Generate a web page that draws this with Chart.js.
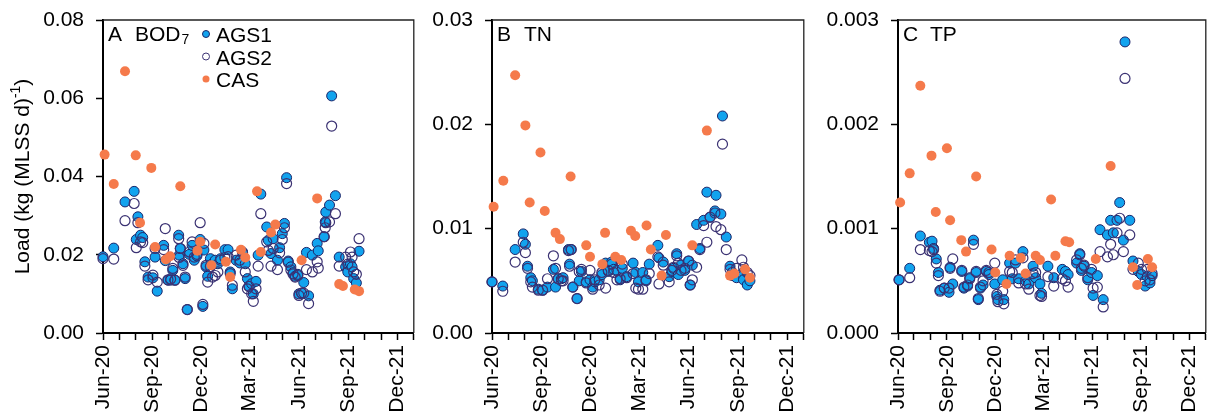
<!DOCTYPE html>
<html>
<head>
<meta charset="utf-8">
<title>Load per MLSS</title>
<script src="https://cdn.jsdelivr.net/npm/chart.js@4.4.1/dist/chart.umd.min.js"></script>
<style>
  html, body { margin: 0; padding: 0; background: #fff; }
  #wrap { position: relative; width: 1212px; height: 419px; overflow: hidden; }
  canvas { position: absolute; top: 0; }
</style>
</head>
<body>
<div id="wrap">
  <canvas id="chartA" width="420" height="419" style="left:0"></canvas>
  <canvas id="chartB" width="390" height="419" style="left:420px"></canvas>
  <canvas id="chartC" width="402" height="419" style="left:810px"></canvas>
</div>
<script>
// sample days are counted from 1 Jun 2020
const quarterLabels = ['Jun-20', 'Sep-20', 'Dec-20', 'Mar-21', 'Jun-21', 'Sep-21', 'Dec-21'];
const seriesNames = ['AGS1', 'AGS2', 'CAS'];

// A - BOD7
const bodTicks = [0, 0.02, 0.04, 0.06, 0.08];
const bodDays = [0,20,41,58,62,65,70,74,78,84,93,97,101,113,116,121,126,130,134,141,142,144,149,153,157,161,166,170,175,181,186,188,192,195,200,204,209,214,219,227,233,237,241,248,255,260,265,269,272,277,280,285,289,294,305,308,313,317,325,329,334,338,342,345,350,354,358,363,365,370,374,379,383,390,399,401,412,414,415,422,426,433,440,452,456,461,464,467,472,477];
const bodAgs1 = [0.0195,0.0217,0.0335,0.0362,0.0239,0.0297,0.025,0.0244,0.0182,0.0143,0.0141,0.0194,0.0107,0.0224,0.0185,0.0135,0.0135,0.016,0.0135,0.025,0.0199,0.0216,0.0177,0.0139,0.006,0.0201,0.0224,0.0186,0.0197,0.0239,0.0068,0.0212,0.0169,0.0145,0.019,0.0177,0.0186,0.0177,0.019,0.0213,0.0213,0.0156,0.0113,0.0186,0.0179,0.0207,0.0177,0.0139,0.0119,0.0126,0.01,0.0132,0.0199,0.0355,0.0271,0.0237,0.0203,0.0241,0.0186,0.0218,0.0254,0.028,0.0397,0.0184,0.0169,0.0154,0.0145,0.015,0.01,0.0102,0.0129,0.0206,0.0095,0.0199,0.0229,0.021,0.0246,0.0284,0.0309,0.0327,0.0606,0.0351,0.0194,0.0169,0.0156,0.0177,0.0169,0.0139,0.0128,0.0209];
const bodAgs2 = [0.019,0.0189,0.0287,0.0331,0.0218,0.0282,0.0233,0.0231,0.0171,0.0136,0.0148,0.0216,0.013,0.0213,0.0267,0.0136,0.0138,0.0165,0.0135,0.0241,0.0193,0.0216,0.0173,0.0143,0.006,0.0207,0.0233,0.0194,0.0201,0.0282,0.0073,0.0229,0.0173,0.013,0.017,0.0143,0.0147,0.0156,0.0186,0.0193,0.0195,0.0152,0.0122,0.0199,0.0186,0.0205,0.0156,0.0113,0.0119,0.01,0.0081,0.0113,0.0171,0.0305,0.0233,0.0211,0.0171,0.0216,0.0162,0.0205,0.0239,0.0269,0.0382,0.0181,0.0161,0.0151,0.0143,0.0147,0.0096,0.0102,0.0102,0.0162,0.0075,0.0156,0.0182,0.0166,0.0246,0.0269,0.0282,0.0284,0.0529,0.0305,0.0171,0.0194,0.0176,0.0207,0.0194,0.0156,0.015,0.0241];
const bodCasDays = [3,20,41,61,69,90,97,117,125,144,176,181,202,209,229,237,257,265,287,294,313,321,370,399,440,447,469,477];
const bodCas = [0.0456,0.0381,0.0669,0.0454,0.0282,0.0422,0.022,0.0188,0.0196,0.0375,0.021,0.0233,0.0173,0.0226,0.0182,0.0143,0.0213,0.0193,0.0362,0.0207,0.0257,0.0277,0.0186,0.0344,0.0125,0.012,0.0111,0.0107];

// B - TN
const tnTicks = [0, 0.01, 0.02, 0.03];
const tnDays = [0,20,43,58,62,66,72,75,86,94,103,114,118,123,129,132,142,144,147,150,158,162,166,175,182,187,191,199,204,211,216,222,226,232,238,242,250,262,267,272,280,286,292,308,310,318,329,334,337,343,346,351,358,365,368,372,380,386,393,399,405,414,416,425,428,435,442,446,454,464,467,474,479];
const tnAgs1 = [0.0049,0.0045,0.008,0.0095,0.0085,0.0064,0.0053,0.005,0.0042,0.0041,0.0044,0.0061,0.0044,0.0052,0.0052,0.0053,0.008,0.0066,0.008,0.0044,0.0033,0.005,0.0059,0.0049,0.0051,0.0044,0.0049,0.0051,0.0056,0.0067,0.0059,0.0068,0.0061,0.006,0.0051,0.0062,0.0054,0.0067,0.0058,0.0049,0.0058,0.005,0.0066,0.0084,0.0072,0.0068,0.0054,0.0059,0.0062,0.0076,0.0056,0.0065,0.006,0.0069,0.0046,0.0065,0.0104,0.0081,0.0108,0.0135,0.0111,0.0117,0.0132,0.0114,0.0208,0.0092,0.0064,0.0055,0.0053,0.0057,0.0051,0.0046,0.005];
const tnAgs2 = [0.0049,0.004,0.0068,0.0087,0.0077,0.0062,0.0049,0.0044,0.0041,0.0041,0.0052,0.0074,0.0062,0.0052,0.005,0.005,0.0079,0.0064,0.008,0.0044,0.0033,0.0059,0.0061,0.0048,0.006,0.0042,0.0051,0.0046,0.0058,0.0043,0.006,0.0066,0.0058,0.0051,0.0052,0.0066,0.0053,0.0057,0.0043,0.0042,0.0042,0.0051,0.0057,0.0073,0.0047,0.0065,0.0049,0.006,0.0063,0.0074,0.0067,0.006,0.0062,0.0069,0.0046,0.0051,0.0063,0.008,0.0103,0.0087,0.0111,0.0115,0.0102,0.0099,0.0181,0.008,0.0061,0.0058,0.0062,0.007,0.0063,0.0058,0.0055];
const tnCasDays = [3,21,43,62,70,90,98,118,126,146,175,182,205,210,229,240,258,266,287,295,315,323,372,399,442,450,470,479];
const tnCas = [0.0121,0.0146,0.0247,0.0199,0.0125,0.0173,0.0117,0.0096,0.009,0.015,0.0084,0.0073,0.0066,0.0096,0.0073,0.007,0.0098,0.0093,0.0103,0.008,0.0055,0.0094,0.0084,0.0194,0.0055,0.0057,0.0061,0.0053];

// C - TP
const tpTicks = [0, 0.001, 0.002, 0.003];
const tpDays = [2,22,42,59,64,67,72,76,79,87,96,98,103,120,124,131,135,142,147,151,155,160,166,171,182,186,188,197,199,210,215,221,227,235,240,246,254,259,267,270,282,293,309,315,320,336,342,345,350,357,364,367,375,380,386,394,400,405,412,417,424,427,436,442,452,458,465,469,474,478];
const tpAgs1 = [0.00051,0.00062,0.00093,0.00087,0.00088,0.00081,0.00071,0.00058,0.00041,0.00043,0.00039,0.00063,0.00047,0.00059,0.00043,0.00045,0.00053,0.00089,0.00058,0.00032,0.00043,0.00046,0.00059,0.00056,0.00047,0.00035,0.00032,0.00051,0.00032,0.00067,0.00052,0.00067,0.00052,0.00078,0.0005,0.00047,0.00064,0.00053,0.00047,0.00038,0.00064,0.00053,0.00061,0.00059,0.00056,0.00067,0.00076,0.0006,0.00064,0.00051,0.00058,0.00036,0.00055,0.00099,0.00032,0.00094,0.00108,0.00096,0.00108,0.00125,0.00089,0.00279,0.00108,0.00069,0.00059,0.00056,0.00045,0.00054,0.00048,0.00055];
const tpAgs2 = [0.00051,0.00053,0.0008,0.00079,0.00078,0.0008,0.00067,0.00055,0.0004,0.00043,0.00043,0.00062,0.00071,0.0006,0.00044,0.00046,0.00052,0.00085,0.00059,0.00033,0.00044,0.0005,0.0006,0.00058,0.00067,0.00037,0.0003,0.0004,0.00028,0.00059,0.00058,0.0007,0.00048,0.00072,0.00047,0.00042,0.00057,0.00058,0.00036,0.00035,0.00054,0.00045,0.00052,0.0005,0.00044,0.0007,0.00075,0.00062,0.00065,0.00053,0.00061,0.00043,0.00044,0.00078,0.00025,0.00073,0.00085,0.00075,0.00096,0.0011,0.00078,0.00244,0.00094,0.00061,0.00067,0.00061,0.0005,0.00061,0.00051,0.00057];
const tpCasDays = [4,22,42,63,71,92,98,119,128,147,176,183,204,210,231,240,259,267,288,296,315,322,372,400,442,450,470,478];
const tpCas = [0.00125,0.00153,0.00237,0.0017,0.00116,0.00177,0.00108,0.00089,0.00078,0.0015,0.0008,0.00058,0.00047,0.00074,0.00072,0.00057,0.00074,0.0007,0.00128,0.00074,0.00088,0.00087,0.00071,0.0016,0.00063,0.00046,0.00071,0.00063];

const FONT = '"Liberation Sans", Arial, sans-serif';
const AGS1_FILL = '#12a3ee';
const AGS1_EDGE = '#1c2468';
const AGS2_EDGE = '#3b3273';
const CAS_FILL = '#f57a4b';

Chart.defaults.font.family = FONT;
Chart.defaults.font.size = 21;
Chart.defaults.color = '#000';

// first day of each month, Jun 2020 .. Jan 2022
const day0 = Date.UTC(2020, 5, 1);
const monthStarts = [];
for (let i = 0; i <= 19; i++) monthStarts.push((Date.UTC(2020, 5 + i, 1) - day0) / 864e5);

function pts(days, vals) {
  return days.map((d, i) => ({ x: d, y: vals[i] }));
}

// frame on top and right + panel letter, legend, y title
const annotPlugin = {
  id: 'annot',
  beforeDatasetsDraw(chart) {
    const { ctx, chartArea: a } = chart;
    ctx.save();
    ctx.strokeStyle = '#222';
    ctx.lineWidth = 1.3;
    ctx.beginPath();
    ctx.moveTo(a.left, a.top);
    ctx.lineTo(a.right, a.top);
    ctx.lineTo(a.right, a.bottom);
    ctx.stroke();
    ctx.restore();
  },
  afterDraw(chart, args, opts) {
    const { ctx, chartArea: a } = chart;
    ctx.save();
    ctx.fillStyle = '#000';
    ctx.textAlign = 'left';
    ctx.textBaseline = 'alphabetic';
    ctx.font = '21px ' + FONT;
    ctx.fillText(opts.letter, a.left + 5, a.top + 21);
    ctx.fillText(opts.name, a.left + 32, a.top + 21);
    if (opts.sub) {
      const w = ctx.measureText(opts.name).width;
      ctx.font = '14px ' + FONT;
      ctx.fillText(opts.sub, a.left + 33 + w, a.top + 24);
    }

    if (opts.legend) {
      const ds = chart.data.datasets;
      ds.forEach((d, i) => {
        const base = a.top + 22 + i * 22.5;
        ctx.beginPath();
        ctx.arc(a.left + 103, base - 8, 3.5, 0, Math.PI * 2);
        if (d.borderWidth > 0 && d.backgroundColor !== 'rgba(0,0,0,0)') {
          ctx.fillStyle = d.backgroundColor; ctx.fill();
        } else if (d.borderWidth === 0) {
          ctx.fillStyle = d.backgroundColor; ctx.fill();
        }
        if (d.borderWidth > 0) {
          ctx.strokeStyle = d.borderColor; ctx.lineWidth = 1; ctx.stroke();
        }
        ctx.fillStyle = '#000';
        ctx.font = '21px ' + FONT;
        ctx.fillText(d.label, a.left + 113, base);
      });
    }

    if (opts.yTitle) {
      const main = 'Load (kg (MLSS d)', sup = '-1', tail = ')';
      ctx.translate(29, (a.top + a.bottom) / 2);
      ctx.rotate(-Math.PI / 2);
      ctx.font = '21px ' + FONT;
      const w1 = ctx.measureText(main).width, w3 = ctx.measureText(tail).width;
      ctx.font = '14px ' + FONT;
      const w2 = ctx.measureText(sup).width;
      let x = -(w1 + w2 + w3) / 2;
      ctx.font = '21px ' + FONT;
      ctx.fillText(main, x, 0);
      x += w1;
      ctx.font = '14px ' + FONT;
      ctx.fillText(sup, x, -9);
      x += w2;
      ctx.font = '21px ' + FONT;
      ctx.fillText(tail, x, 0);
    }
    ctx.restore();
  }
};

function makePanel(id, o) {
  return new Chart(document.getElementById(id), {
    type: 'scatter',
    data: {
      datasets: [
        { label: seriesNames[0], data: pts(o.days, o.ags1), backgroundColor: AGS1_FILL, borderColor: AGS1_EDGE, borderWidth: 1, pointRadius: 5, order: 3 },
        { label: seriesNames[1], data: pts(o.days, o.ags2), backgroundColor: 'rgba(0,0,0,0)', borderColor: AGS2_EDGE, borderWidth: 1.2, pointRadius: 5, order: 2 },
        { label: seriesNames[2], data: pts(o.casDays, o.cas), backgroundColor: CAS_FILL, borderColor: CAS_FILL, borderWidth: 0, pointRadius: 5, order: 1 }
      ]
    },
    plugins: [annotPlugin],
    options: {
      responsive: false,
      animation: false,
      events: [],
      clip: false,
      layout: { padding: { top: 20, left: 0, right: o.padRight, bottom: 0 } },
      plugins: {
        legend: { display: false },
        tooltip: { enabled: false },
        annot: { letter: o.letter, name: o.name, sub: o.sub, legend: o.legend, yTitle: o.yTitle }
      },
      scales: {
        x: {
          type: 'linear',
          min: 0,
          max: monthStarts[monthStarts.length - 1],
          afterBuildTicks: s => { s.ticks = monthStarts.map(v => ({ value: v })); },
          afterFit: s => { s.height = 86; s.paddingLeft = 0; s.paddingRight = 0; },
          ticks: {
            autoSkip: false,
            minRotation: 90,
            maxRotation: 90,
            padding: 5,
            callback: (v, i) => (i % 3 === 0 ? quarterLabels[i / 3] : '')
          },
          grid: { drawOnChartArea: false, drawTicks: true, tickLength: 7, tickColor: '#000', tickWidth: 1.5 },
          border: { color: '#000', width: 2 }
        },
        y: {
          type: 'linear',
          min: 0,
          max: o.yTicks[o.yTicks.length - 1],
          afterBuildTicks: s => { s.ticks = o.yTicks.map(v => ({ value: v })); },
          afterFit: s => { s.width = o.yWidth; s.paddingTop = 0; s.paddingBottom = 0; },
          ticks: { padding: 12, callback: v => v.toFixed(o.dec) },
          grid: { drawOnChartArea: false, drawTicks: true, tickLength: 7, tickColor: '#000', tickWidth: 1.5 },
          border: { color: '#000', width: 2 }
        }
      }
    }
  });
}

makePanel('chartA', { days: bodDays, ags1: bodAgs1, ags2: bodAgs2, casDays: bodCasDays, cas: bodCas,
  yTicks: bodTicks, dec: 2, yWidth: 103, padRight: 5, letter: 'A', name: 'BOD', sub: '7', legend: true, yTitle: true });
makePanel('chartB', { days: tnDays, ags1: tnAgs1, ags2: tnAgs2, casDays: tnCasDays, cas: tnCas,
  yTicks: tnTicks, dec: 2, yWidth: 72, padRight: 6, letter: 'B', name: 'TN', legend: false, yTitle: false });
makePanel('chartC', { days: tpDays, ags1: tpAgs1, ags2: tpAgs2, casDays: tpCasDays, cas: tpCas,
  yTicks: tpTicks, dec: 3, yWidth: 88, padRight: 2, letter: 'C', name: 'TP', legend: false, yTitle: false });
</script>
</body>
</html>
